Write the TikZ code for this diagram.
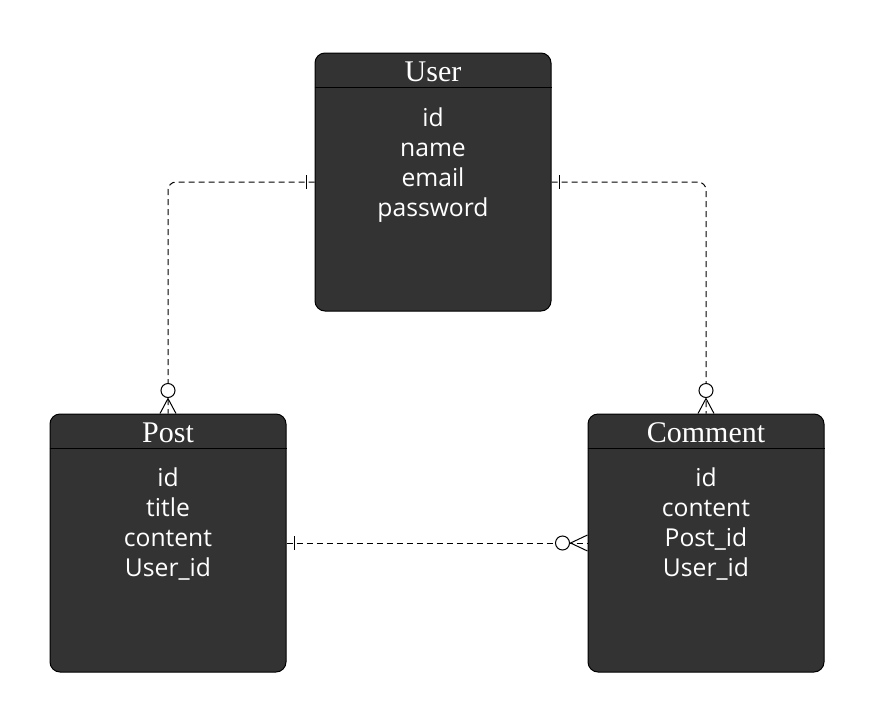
\documentclass[tikz,border=0pt]{standalone}
\usepackage{fontspec}
\newfontfamily\titlefont{Liberation Serif}
\newfontfamily\fieldfont{Open Sans}
\usetikzlibrary{calc}

\definecolor{boxfill}{RGB}{51,51,51}

\tikzset{every picture/.style={line width=0.75pt}}
\tikzset{
  entity/.style={draw=black, fill=boxfill, rounded corners=7.5pt, minimum width=177pt, minimum height=193.5pt, inner sep=0pt},
  title/.style={text=white, font=\titlefont\fontsize{22.5}{26}\selectfont, anchor=base},
  field/.style={text=white, font=\fieldfont\fontsize{18.5}{22}\selectfont, anchor=base},
  rel/.style={draw=black, dash pattern={on 4.5pt off 3pt}, line width=0.75pt},
  ermark/.style={draw=black, line width=0.75pt}
}

\begin{document}
\begin{tikzpicture}[x=0.75pt,y=0.75pt,yscale=-1,xscale=1]
	%set diagram size
	\path (0,0) rectangle (875,718);

	%Shape: Entity User
	\node[entity] (user) at (433,182) {};
	\draw (user.north west) ++(0,35) coordinate (userhl) -- (userhl -| user.east);
	%Shape: Entity Post
	\node[entity] (post) at (168,543) {};
	\draw (post.north west) ++(0,35) coordinate (posthl) -- (posthl -| post.east);
	%Shape: Entity Comment
	\node[entity] (comment) at (706,543) {};
	\draw (comment.north west) ++(0,35) coordinate (commenthl) -- (commenthl -| comment.east);

	% Text Node
	\node[title] (usertitle) at (433,81) {User};
	\node[field] (userid) at (433,126) {id};
	\node[field] (username) at (433,156) {name};
	\node[field] (useremail) at (433,186) {email};
	\node[field] (userpassword) at (433,216) {password};
	% Text Node
	\node[title] (posttitle) at (168,442) {Post};
	\node[field] (postid) at (168,486) {id};
	\node[field] (posttitletext) at (168,516) {title};
	\node[field] (postcontent) at (168,546) {content};
	\node[field] (postuserid) at (168,576) {User\_id};
	% Text Node
	\node[title] (commenttitle) at (706,442) {Comment};
	\node[field] (commentid) at (706,486) {id};
	\node[field] (commentcontent) at (706,516) {content};
	\node[field] (commentpostid) at (706,546) {Post\_id};
	\node[field] (commentuserid) at (706,576) {User\_id};

	%Relation User - Post
	\draw[rel, rounded corners=6pt] (user.west) -| (post.north);
	\draw[ermark] ($(user.west)+(-8,-7)$) -- ++(0,14);
	\draw[ermark, fill=white] ($(post.north)+(0,-23)$) circle (5.25pt);
	\draw[ermark] ($(post.north)+(-8,0)$) -- ($(post.north)+(0,-15)$) -- ($(post.north)+(8,0)$);

	%Relation User - Comment
	\draw[rel, rounded corners=6pt] (user.east) -| (comment.north);
	\draw[ermark] ($(user.east)+(8,-7)$) -- ++(0,14);
	\draw[ermark, fill=white] ($(comment.north)+(0,-23)$) circle (5.25pt);
	\draw[ermark] ($(comment.north)+(-8,0)$) -- ($(comment.north)+(0,-15)$) -- ($(comment.north)+(8,0)$);

	%Relation Post - Comment
	\draw[rel] (post.east) -- (comment.west);
	\draw[ermark] ($(post.east)+(8,-7)$) -- ++(0,14);
	\draw[ermark, fill=white] ($(comment.west)+(-25,0)$) circle (5.25pt);
	\draw[ermark] ($(comment.west)+(0,-8)$) -- ($(comment.west)+(-17,0)$) -- ($(comment.west)+(0,8)$);

\end{tikzpicture}
\end{document}
